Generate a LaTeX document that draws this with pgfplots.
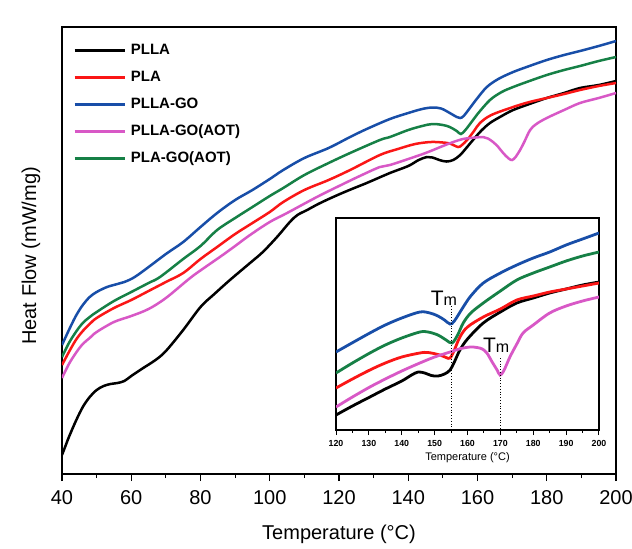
\documentclass[border=0pt]{standalone}
\usepackage{fontspec}
\setmainfont{Liberation Sans}
\usepackage{pgfplots}
\pgfplotsset{compat=1.18}
\definecolor{plblue}{RGB}{24,78,168}
\definecolor{plgreen}{RGB}{22,128,70}
\definecolor{plmag}{RGB}{216,88,198}
\definecolor{plred}{RGB}{250,22,22}

\begin{document}
\begin{tikzpicture}
\useasboundingbox (-31pt,-37pt) rectangle (285pt,237pt);
% main axis, y holds the curve heights in picture rows (down is larger)
\begin{axis}[
    scale only axis,
    width=277pt, height=223.5pt,
    xmin=40, xmax=200,
    ymin=27, ymax=474,
    y dir=reverse,
    xtick={40,60,...,200},
    minor xtick={50,70,...,190},
    ytick=\empty,
    tick align=outside,
    xtick pos=bottom,
    major tick length=3.5pt,
    minor tick length=2pt,
    axis line style={line width=0.75pt},
    every tick/.style={line width=0.6pt, black},
    /pgf/number format/assume math mode=true,
    tick label style={font=\fontsize{10}{11}\selectfont},
    xticklabel style={yshift=-1pt},
    xlabel={Temperature (°C)},
    ylabel={Heat Flow (mW/mg)},
    label style={font=\fontsize{12.5}{14}\selectfont},
    every axis x label/.style={at={(axis description cs:0.5,-0.134)}, anchor=center},
    every axis y label/.style={at={(axis description cs:-0.056,0.488)}, rotate=90, anchor=center},
    legend cell align=left,
    legend image code/.code={\draw[#1] (0pt,0pt) -- (25pt,0pt);},
    legend style={draw=none, fill=none, at={(axis description cs:0,1)}, anchor=north west,
        xshift=5.5pt, yshift=-4.75pt, inner sep=0pt, row sep=0pt, column sep=2.5pt,
        font=\bfseries\fontsize{7.5}{9}\selectfont,
        nodes={inner sep=0pt, anchor=west, minimum height=13.5pt}},
    every axis plot/.append style={line width=1.25pt},
]
% PLLA
\addplot[black, smooth, tension=0.55] coordinates {
(40,455) (41,446) (42,437) (44,421) (46,407) (48,397) (50,390) (52,386) (54,384)
(56,383) (58,381) (60,376) (63,369) (67,360) (70,351) (75,330) (80,307) (84,294)
(88.5,280) (94.3,263) (98,252) (102.1,237) (105.8,222) (108,215) (110.8,210)
(114,204) (118.3,197) (123,190) (128,183) (134.7,173) (140,166) (143,160)
(145.4,157) (147,157.5) (149,160) (151,161.5) (153,160) (155,155) (157,147)
(158.7,140) (161,131) (163.6,123) (167,116) (170.3,110) (175,104) (180,98)
(185,93) (189.6,88) (195,85) (200,81)};
\addlegendentry{PLLA}
% PLA
\addplot[plred, smooth, tension=0.55] coordinates {
(40,365) (42,352) (44,340) (46,331) (48,324) (50,318) (55,308) (60,300) (65,291)
(70,282) (75,273) (80,259) (84.8,247) (90,234) (95,223) (100,212) (103.9,202)
(110,190) (117,180) (123.2,170) (131.8,155) (137,149) (142,144) (146.5,142)
(150,142.5) (152,143.5) (154.4,147) (155.5,145) (157,140) (159,131) (160.7,123)
(164,115) (170.3,107) (175,102) (180,98) (185,94) (189.6,90) (195,86) (200,83)};
\addlegendentry{PLA}
% PLLA-GO
\addplot[plblue, smooth, tension=0.55] coordinates {
(40,345) (42,330) (44,316) (46,305) (48,297) (50,292) (53,287) (56,284) (58,282)
(61,277) (65.4,266) (70,254) (75,242) (80,227) (84.8,213) (90,200) (95,190)
(100,179) (103.9,170) (110,158) (117,148) (123.2,137) (128,129) (134.7,119)
(140,113) (144,109) (147,107.5) (149.5,108.5) (152,113) (154,117) (155,118)
(156,116) (157.8,108) (160,98) (162.7,87) (166,79) (170.3,72) (175,66) (180,60)
(185,55) (189.6,51) (195,46) (200,41)};
\addlegendentry{PLLA-GO}
% PLLA-GO(AOT)
\addplot[plmag, smooth, tension=0.55] coordinates {
(40,378) (42,364) (44,353) (46,344) (48,338) (50,332) (55,322) (60,316) (65,309)
(70,298) (77,278) (81,268) (86,256) (90,246) (94.3,235) (100,222) (105,213)
(113.6,197) (120,186) (126,176) (131.8,167) (134.7,165) (140,159) (145,153)
(150,146) (153,142) (155.8,139) (158,138) (161.6,137) (163,138.5) (164.5,142)
(166,147) (167.4,153) (169,158.5) (170,160) (171,157) (172.3,150) (173.5,142)
(175.2,130) (177,124) (180,118) (185,110) (189.6,103) (195,98) (200,93)};
\addlegendentry{PLLA-GO(AOT)}
% PLA-GO(AOT)
\addplot[plgreen, smooth, tension=0.55] coordinates {
(40,357) (42,343) (44,332) (46,323) (48,317) (50,312) (55,301) (60,292) (65,283)
(68.3,277) (75,259) (80,246) (84.8,230) (90,218) (95,207) (100,196) (103.9,188)
(110,175) (117,163) (123.2,153) (131.8,140) (134.7,137) (140,130) (144,126)
(147,124) (150,125) (152,127) (154,131) (155.2,134) (156.5,130) (158.7,120)
(160,114) (163.6,100) (167,92) (170.3,87) (175,81) (180,75) (185,70) (189.6,66)
(195,61) (200,57)};
\addlegendentry{PLA-GO(AOT)}
\end{axis}

% inset
\begin{axis}[
    at={(137pt,22pt)}, anchor=south west,
    scale only axis,
    width=131.5pt, height=106pt,
    xmin=120, xmax=200,
    ymin=218, ymax=430,
    y dir=reverse,
    xtick={120,130,...,200},
    minor xtick={125,135,...,195},
    ytick=\empty,
    tick align=outside,
    xtick pos=bottom,
    major tick length=2.5pt,
    minor tick length=1.5pt,
    axis line style={line width=0.7pt},
    every tick/.style={line width=0.5pt, black},
    axis background/.style={fill=white},
    /pgf/number format/assume math mode=true,
    /pgf/number format/1000 sep={},
    tick label style={font=\bfseries\fontsize{4.4}{5}\selectfont},
    xticklabel style={yshift=1pt},
    xlabel={Temperature (°C)},
    every axis x label/.style={at={(axis description cs:0.5,-0.132)}, anchor=center,
        font=\fontsize{5.5}{6.5}\selectfont},
    every axis plot/.append style={line width=1.4pt},
]
\addplot[black, smooth, tension=0.55] coordinates {
(120,415) (125,406) (130.3,397) (135,389) (140,381) (143,375) (145,372) (147,373)
(149,375.5) (151,376) (153,374) (154.7,370) (156,362) (157.7,350) (160,339)
(164.8,323) (170,312) (175,303) (180,298) (185,293) (190,289) (195,285) (200,282)};
\addplot[plred, smooth, tension=0.55] coordinates {
(120,388) (125,379) (130.3,370) (135,363) (140,357) (145.5,353) (148,352.5)
(151.6,355) (153.5,357.5) (154.7,358) (156,350) (157.7,337) (160,327) (164.8,317)
(170,309) (175,300) (180,296) (185,292) (190,289) (195,286) (200,283)};
\addplot[plblue, smooth, tension=0.55] coordinates {
(120,352) (124.3,344) (130.3,333) (135,325) (140,318) (145.5,312) (148.6,313)
(151,316) (153,320) (154.7,324) (156,321) (158.7,307) (161,296) (164.8,283)
(170,273) (175,265) (180,258) (185,252) (190,245) (195,239) (200,233)};
\addplot[plmag, smooth, tension=0.55] coordinates {
(120,407) (125,397) (130.3,387) (135,379) (140,371) (145.5,363) (150,357)
(154.7,352) (158,348.5) (160.8,347) (162.9,347.5) (164.5,349) (165.9,353)
(167.5,362) (169,370) (169.9,375) (171,371) (172.9,357) (175,344) (176.9,333)
(180,325) (185,313) (190,306) (195,301) (200,297)};
\addplot[plgreen, smooth, tension=0.55] coordinates {
(120,373) (125,363) (130.3,353) (135,345) (140,338) (145.5,332) (148,332)
(151,335) (153.5,340) (155.3,343) (157,335) (158.7,323) (161,313) (164.8,303)
(170,291) (175,280) (180,273) (185,267) (190,261) (195,256) (200,252)};
% Tm markers
\addplot[black, line width=0.4pt, densely dotted] coordinates {(155,306) (155,430)};
\addplot[black, line width=0.4pt, densely dotted] coordinates {(170,358) (170,430)};
\node[anchor=base, inner sep=0pt] at (axis cs:152.8,305) {\fontsize{10.5}{11}\selectfont T\fontsize{8}{9}\selectfont m};
\node[anchor=base, inner sep=0pt] at (axis cs:168.7,352.7) {\fontsize{10.5}{11}\selectfont T\fontsize{8}{9}\selectfont m};
\end{axis}
\end{tikzpicture}
\end{document}
